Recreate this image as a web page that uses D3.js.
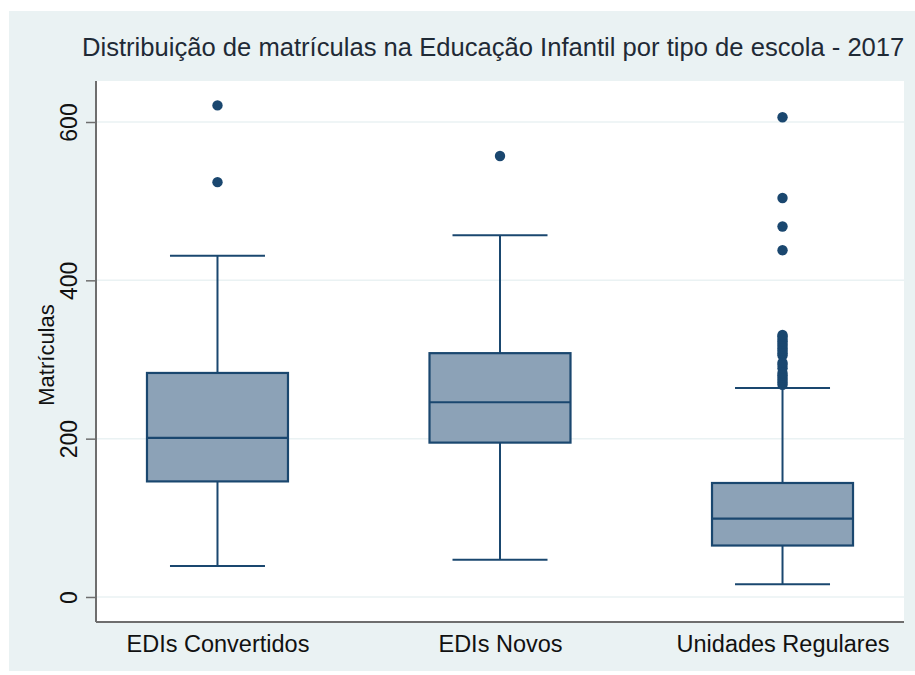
<!DOCTYPE html>
<html>
<head>
<meta charset="utf-8">
<script src="https://cdn.jsdelivr.net/npm/d3@7"></script>
<style>
  body { margin: 0; background: #ffffff; }
  text { font-family: "Liberation Sans", Arial, sans-serif; }
</style>
</head>
<body>
<div id="chart"></div>
<script>
// Box plot data (Matrículas por tipo de escola)
var categories = ["EDIs Convertidos", "EDIs Novos", "Unidades Regulares"];
var lowerWhisker = [39, 47, 16];
var q1 = [146, 195, 65];
var median = [201, 246, 99];
var q3 = [283, 308, 144];
var upperWhisker = [431, 457, 264];
var outliers = [
  [524, 621],
  [557],
  [268, 271, 274, 277, 280, 283, 289, 293, 296, 305, 308, 311, 314, 317, 320, 323, 326, 329, 331, 438, 468, 504, 606]
];
var yTicks = [0, 200, 400, 600];

var svgWidth = 915;
var svgHeight = 675;

// plot region inside the light background
var plot = { left: 96, right: 904, top: 81, bottom: 622 };

var navy = "#1a476f";
var boxFill = "#8ca2b7";
var bgColor = "#eaf2f3";

var svg = d3.select("#chart")
  .append("svg")
  .attr("width", svgWidth)
  .attr("height", svgHeight);

// outer graph background
svg.append("rect")
  .attr("x", 9)
  .attr("y", 11)
  .attr("width", svgWidth - 9)
  .attr("height", 660)
  .attr("fill", bgColor);

// plot region
svg.append("rect")
  .attr("x", plot.left)
  .attr("y", plot.top)
  .attr("width", plot.right - plot.left)
  .attr("height", plot.bottom - plot.top)
  .attr("fill", "#ffffff");

// title
svg.append("text")
  .attr("x", 82)
  .attr("y", 56)
  .attr("font-size", "25.6px")
  .attr("fill", "#1f2a36")
  .text("Distribuição de matrículas na Educação Infantil por tipo de escola - 2017");

// scales
var xScale = d3.scalePoint()
  .domain(categories)
  .range([plot.left, plot.right])
  .padding(0.43);

var yScale = d3.scaleLinear()
  .domain([-31.6, 651.8])
  .range([plot.bottom, plot.top]);

// gridlines
svg.append("g")
  .selectAll("line")
  .data(yTicks)
  .enter()
  .append("line")
  .attr("x1", plot.left)
  .attr("x2", plot.right)
  .attr("y1", d => yScale(d))
  .attr("y2", d => yScale(d))
  .attr("stroke", bgColor)
  .attr("stroke-width", 1.5);

var boxWidth = 141;
var capWidth = 95;

var rows = categories.map(function(c, i) {
  return { cat: c, lo: lowerWhisker[i], q1: q1[i], med: median[i], q3: q3[i], hi: upperWhisker[i], out: outliers[i] };
});

var boxes = svg.append("g")
  .selectAll("g")
  .data(rows)
  .enter()
  .append("g");

// whiskers
boxes.append("line")
  .attr("x1", d => xScale(d.cat))
  .attr("x2", d => xScale(d.cat))
  .attr("y1", d => yScale(d.q3))
  .attr("y2", d => yScale(d.hi))
  .attr("stroke", navy)
  .attr("stroke-width", 2);

boxes.append("line")
  .attr("x1", d => xScale(d.cat))
  .attr("x2", d => xScale(d.cat))
  .attr("y1", d => yScale(d.q1))
  .attr("y2", d => yScale(d.lo))
  .attr("stroke", navy)
  .attr("stroke-width", 2);

// caps
boxes.selectAll(".cap")
  .data(d => [{ x: xScale(d.cat), v: d.hi }, { x: xScale(d.cat), v: d.lo }])
  .enter()
  .append("line")
  .attr("class", "cap")
  .attr("x1", d => d.x - capWidth / 2)
  .attr("x2", d => d.x + capWidth / 2)
  .attr("y1", d => yScale(d.v))
  .attr("y2", d => yScale(d.v))
  .attr("stroke", navy)
  .attr("stroke-width", 2);

// boxes
boxes.append("rect")
  .attr("x", d => xScale(d.cat) - boxWidth / 2)
  .attr("y", d => yScale(d.q3))
  .attr("width", boxWidth)
  .attr("height", d => yScale(d.q1) - yScale(d.q3))
  .attr("fill", boxFill)
  .attr("stroke", navy)
  .attr("stroke-width", 2.2);

// medians
boxes.append("line")
  .attr("x1", d => xScale(d.cat) - boxWidth / 2)
  .attr("x2", d => xScale(d.cat) + boxWidth / 2)
  .attr("y1", d => yScale(d.med))
  .attr("y2", d => yScale(d.med))
  .attr("stroke", navy)
  .attr("stroke-width", 2.2);

// outside values
boxes.selectAll("circle")
  .data(d => d.out.map(v => ({ x: xScale(d.cat), v: v })))
  .enter()
  .append("circle")
  .attr("cx", d => d.x)
  .attr("cy", d => yScale(d.v))
  .attr("r", 5.2)
  .attr("fill", navy);

// y axis
var leftAxis = d3.axisLeft(yScale)
  .tickValues(yTicks)
  .tickSize(10)
  .tickSizeOuter(0);

var yAxis = svg.append("g")
  .attr("transform", `translate(${plot.left}, 0)`)
  .call(leftAxis);

yAxis.select(".domain")
  .attr("d", `M0,${plot.top}V${plot.bottom}`)
  .attr("stroke", "#6e6e6e")
  .attr("stroke-width", 2);

yAxis.selectAll(".tick line")
  .attr("stroke", "#6e6e6e")
  .attr("stroke-width", 1.5);

yAxis.selectAll(".tick text")
  .attr("x", 0)
  .attr("dy", 0)
  .attr("transform", "translate(-19,0) rotate(-90)")
  .attr("text-anchor", "middle")
  .attr("font-size", "23px")
  .attr("font-family", "'Liberation Sans', Arial, sans-serif")
  .attr("fill", "#111");

// x axis line (no ticks)
var bottomAxis = d3.axisBottom(xScale)
  .tickSize(0)
  .tickSizeOuter(0);

var xAxis = svg.append("g")
  .attr("transform", `translate(0, ${plot.bottom})`)
  .call(bottomAxis);

xAxis.select(".domain")
  .attr("d", `M${plot.left},0H${plot.right}`)
  .attr("stroke", "#6e6e6e")
  .attr("stroke-width", 2);

xAxis.selectAll(".tick text")
  .attr("y", 0)
  .attr("dy", 30)
  .attr("font-size", "23.5px")
  .attr("font-family", "'Liberation Sans', Arial, sans-serif")
  .attr("fill", "#111");

// y axis title
svg.append("text")
  .attr("transform", "translate(54, 355) rotate(-90)")
  .attr("text-anchor", "middle")
  .attr("font-size", "22px")
  .attr("fill", "#111")
  .text("Matrículas");
</script>
</body>
</html>
